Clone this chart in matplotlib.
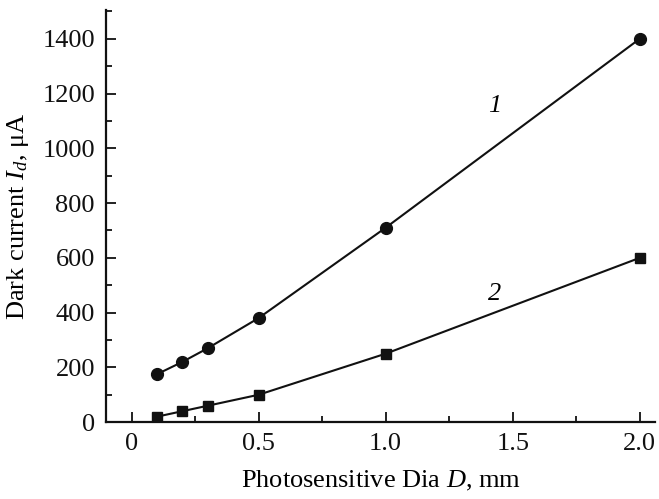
import matplotlib
matplotlib.use("Agg")
import matplotlib.pyplot as plt
from matplotlib.ticker import MultipleLocator

plt.rcParams['font.family'] = ['Liberation Serif', 'DejaVu Serif']
plt.rcParams['mathtext.fontset'] = 'custom'
plt.rcParams['mathtext.rm'] = 'Liberation Serif'
plt.rcParams['mathtext.it'] = 'Liberation Serif:italic'

diameter = [0.1, 0.2, 0.3, 0.5, 1.0, 2.0]
dark_current_1 = [175, 220, 270, 380, 710, 1400]
dark_current_2 = [20, 40, 60, 100, 250, 600]
x_ticks = [0, 0.5, 1.0, 1.5, 2.0]
x_tick_labels = ['0', '0.5', '1.0', '1.5', '2.0']
y_ticks = [0, 200, 400, 600, 800, 1000, 1200, 1400]

fig = plt.figure(figsize=(6.59, 4.99), dpi=100)
ax = fig.add_axes([0.161, 0.154, 0.833, 0.826])

ax.plot(diameter, dark_current_1, color='#111111', lw=1.5, marker='o', ms=8.5)
ax.plot(diameter, dark_current_2, color='#111111', lw=1.5, marker='s', ms=7.2)

ax.text(1.43, 1155, '1', fontsize=19, style='italic', ha='center', va='center')
ax.text(1.43, 468, '2', fontsize=19, style='italic', ha='center', va='center')

ax.set_xlim(-0.1, 2.06)
ax.set_ylim(0, 1505)
ax.set_xticks(x_ticks)
ax.set_xticklabels(x_tick_labels)
ax.set_yticks(y_ticks)
ax.xaxis.set_minor_locator(MultipleLocator(0.25))
ax.yaxis.set_minor_locator(MultipleLocator(100))

for s in ['top', 'right']:
    ax.spines[s].set_visible(False)
for s in ['left', 'bottom']:
    ax.spines[s].set_linewidth(1.6)
    ax.spines[s].set_color('#111111')

ax.tick_params(which='major', direction='in', length=7, width=1.3, labelsize=19, pad=8, colors='#111111')
ax.tick_params(which='minor', direction='in', length=4.5, width=1.3, colors='#111111')

ax.set_xlabel('Photosensitive Dia $\\mathit{D}$, mm', fontsize=19, labelpad=10)
ax.set_ylabel('Dark current $\\mathit{I_d}$, μA', fontsize=19, labelpad=8)

fig.savefig('out.png', dpi=100)
